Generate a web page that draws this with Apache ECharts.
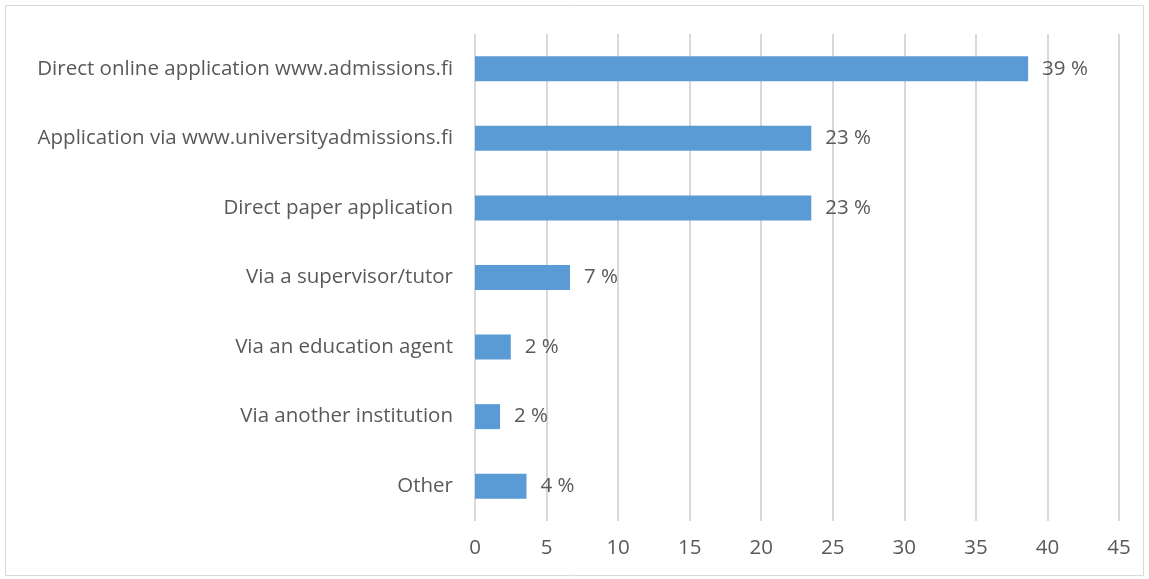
<!DOCTYPE html>
<html>
<head>
<meta charset="utf-8">
<script src="https://cdn.jsdelivr.net/npm/echarts@6/dist/echarts.min.js"></script>
<style>
  html, body { margin: 0; padding: 0; background: #fff; }
  #chart { width: 1149px; height: 579px; }
</style>
</head>
<body>
<div id="chart"></div>
<script>
const categories = [
  'Direct online application www.admissions.fi',
  'Application via www.universityadmissions.fi',
  'Direct paper application',
  'Via a supervisor/tutor',
  'Via an education agent',
  'Via another institution',
  'Other'
]
const values = [38.65, 23.5, 23.5, 6.64, 2.5, 1.75, 3.6]
const valueLabels = ['39 %', '23 %', '23 %', '7 %', '2 %', '2 %', '4 %']

const font = '"Open Sans", "Noto Sans", sans-serif'
const textColor = '#595959'
const fontSize = 20.5

const myChart = echarts.init(document.getElementById('chart'))

const option = {
  animation: false,
  backgroundColor: '#fff',
  graphic: [{
    type: 'rect',
    shape: { x: 5.5, y: 5.5, width: 1138, height: 570 },
    style: { fill: 'none', stroke: '#d9d9d9', lineWidth: 1 }
  }],
  grid: { left: 475, right: 30, top: 34, bottom: 58 },
  xAxis: {
    type: 'value',
    min: 0,
    max: 45,
    interval: 5,
    axisLine: { show: false },
    axisTick: { show: false },
    axisLabel: { color: textColor, fontSize: fontSize, fontFamily: font, margin: 17 },
    splitLine: { lineStyle: { color: '#d9d9d9', width: 2 } }
  },
  yAxis: {
    type: 'category',
    inverse: true,
    data: categories,
    axisLine: { show: false },
    axisTick: { show: false },
    axisLabel: { color: textColor, fontSize: fontSize, fontFamily: font, margin: 22 }
  },
  series: [{
    type: 'bar',
    data: values,
    barWidth: 25,
    itemStyle: { color: '#5b9bd5' },
    label: {
      show: true,
      position: 'right',
      distance: 14,
      color: textColor,
      fontSize: fontSize,
      fontFamily: font,
      formatter: p => valueLabels[p.dataIndex]
    }
  }]
}

myChart.setOption(option)
</script>
</body>
</html>
